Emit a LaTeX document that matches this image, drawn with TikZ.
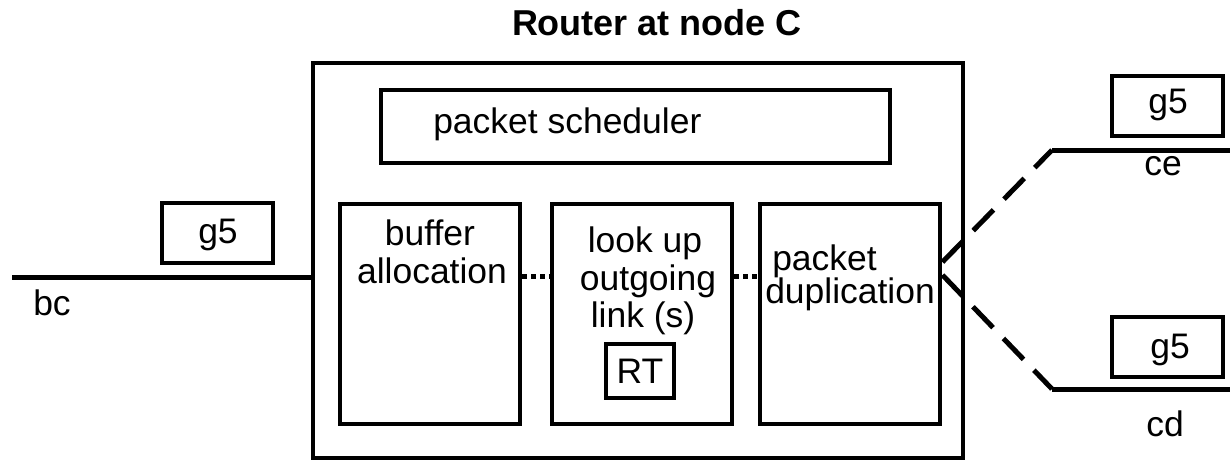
\documentclass[tikz,border=0pt]{standalone}
\usepackage{fontspec}
\setmainfont{Liberation Sans}
\usetikzlibrary{calc}
\begin{document}
\begin{tikzpicture}[x=0.75pt,y=-0.75pt,
  box/.style={draw, line width=3.7pt, inner sep=0pt},
  lbl/.style={inner sep=0pt, anchor=base, font=\fontsize{26.6}{28}\selectfont},
  lblw/.style={lbl, anchor=base west},
  wire/.style={line width=3.75pt},
  dotline/.style={line width=3.75pt, dash pattern=on 3.6pt off 3pt},
  dashline/.style={line width=3.75pt, dash pattern=on 21.75pt off 11.25pt}]
  \useasboundingbox (0,0) rectangle (1230,462);

  % title
  \node[lbl, font=\fontsize{27}{29}\selectfont\bfseries] (title) at (657,35) {Router at node C};

  % router and its parts
  \node[box, minimum width=487.5pt, minimum height=296.25pt] (router) at (638,260.5) {};
  \node[box, minimum width=381.75pt, minimum height=54.75pt] (sched) at (635.5,126.5) {};
  \node[box, minimum width=135pt, minimum height=165pt] (buffer) at (430,314) {};
  \node[box, minimum width=135pt, minimum height=165pt] (lookup) at (642,314) {};
  \node[box, minimum width=135pt, minimum height=165pt] (dup) at (850,314) {};
  \node[box, minimum width=51pt, minimum height=40.5pt] (rt) at (640,371) {};

  \node[lblw] (schedtxt) at (433,133) {packet scheduler};
  \node[lbl] (buf1) at (430,245) {buffer};
  \node[lbl] (buf2) at (432,283) {allocation};
  \node[lbl] (look1) at (645,252) {look up};
  \node[lbl] (look2) at (648,290) {outgoing};
  \node[lbl] (look3) at (643,327) {link (s)};
  \node[lbl] (rttxt) at (640,383) {RT};
  \node[lblw] (dup1) at (772,270) {packet};
  \node[lblw] (dup2) at (765,303) {duplication};

  % flow between the stages
  \coordinate (dotrow) at (0,276);
  \draw[dotline] (buffer.east |- dotrow) -- (lookup.west |- dotrow);
  \draw[dotline] (lookup.east |- dotrow) -- (dup.west |- dotrow);

  % incoming link bc
  \coordinate (bcstart) at (12,277);
  \draw[wire] (bcstart) -- (bcstart -| router.west);
  \node[box, minimum width=83.25pt, minimum height=45pt] (g5in) at (217.5,233) {};
  \node[lbl] (g5intxt) at (218,243) {g5};
  \node[lblw] (bc) at (33,315) {bc};

  % outgoing link ce
  \coordinate (ceout) at (0,262);
  \coordinate (ceknee) at (1052,150);
  \coordinate (ceend) at (1230,150);
  \draw[dashline] (dup.east |- ceout) -- (ceknee);
  \draw[wire] (ceknee) -- (ceend);
  \node[box, minimum width=83.25pt, minimum height=45pt] (g5ce) at (1167.5,106) {};
  \node[lbl] (g5cetxt) at (1168,113) {g5};
  \node[lbl] (ce) at (1163,175) {ce};

  % outgoing link cd
  \coordinate (cdout) at (0,275);
  \coordinate (cdknee) at (1052,389);
  \coordinate (cdend) at (1230,389);
  \draw[dashline] (dup.east |- cdout) -- (cdknee);
  \draw[wire] (cdknee) -- (cdend);
  \node[box, minimum width=83.25pt, minimum height=45pt] (g5cd) at (1167.5,347) {};
  \node[lbl] (g5cdtxt) at (1170,358) {g5};
  \node[lbl] (cd) at (1165,436) {cd};
\end{tikzpicture}
\end{document}
